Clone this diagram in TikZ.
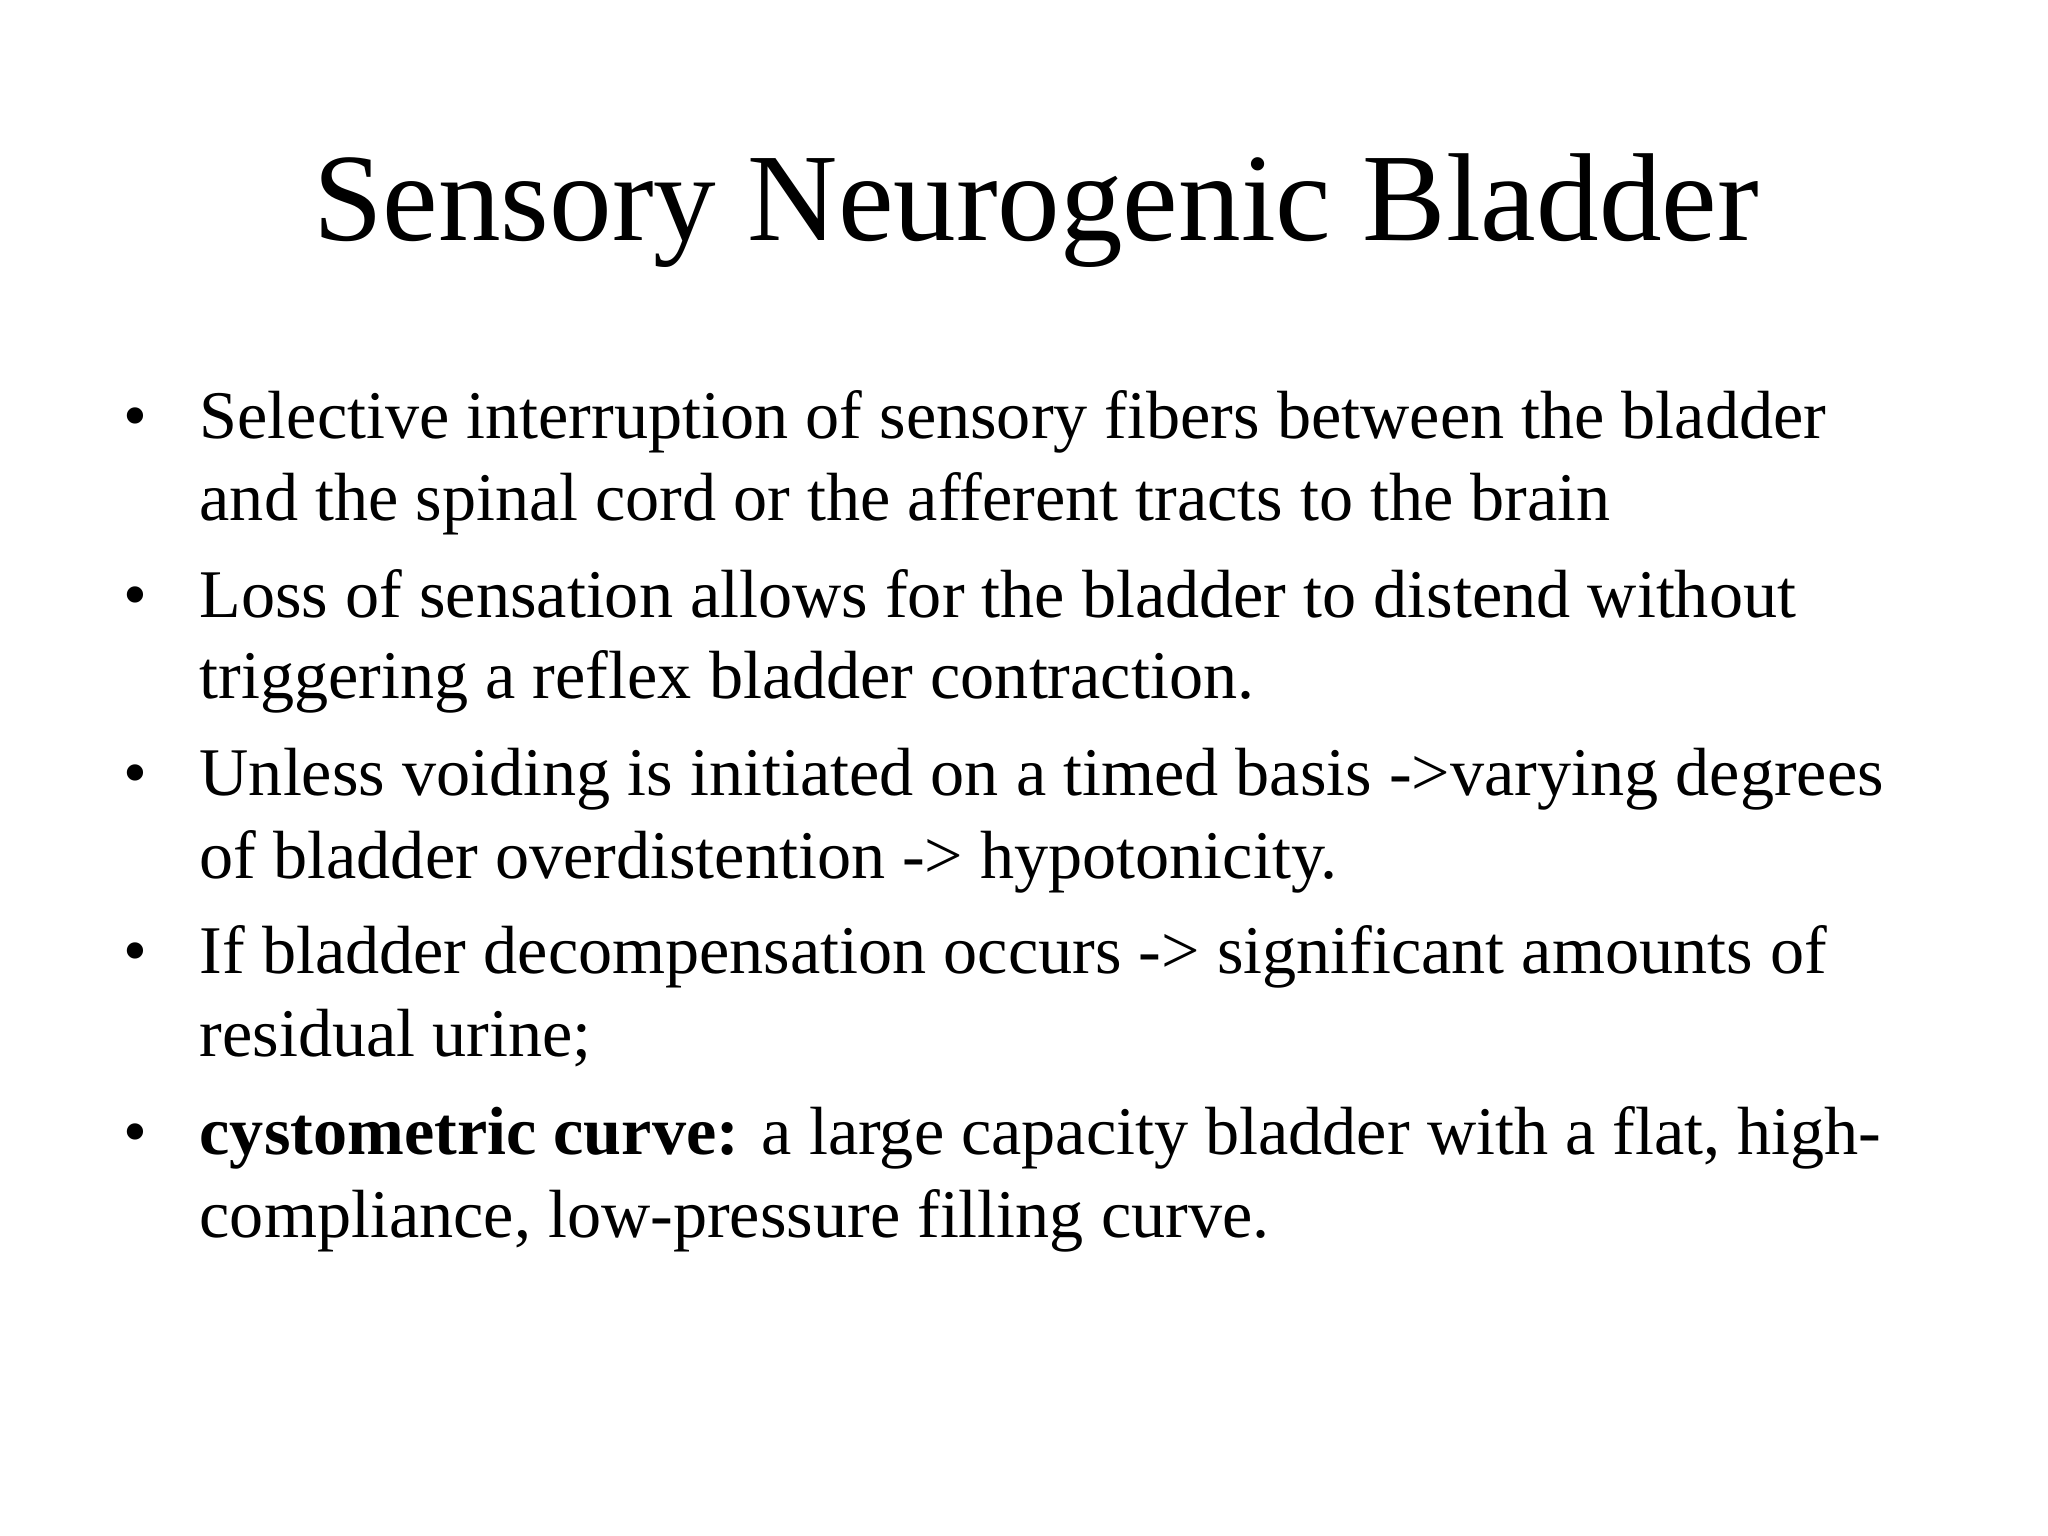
\documentclass[tikz,border=0pt]{standalone}
\usepackage{fontspec}
\setmainfont{Liberation Serif}
\begin{document}
\begin{tikzpicture}[x=1cm,y=1cm,
  ln/.style={anchor=base west,inner sep=0pt,font=\fontsize{19.4}{23}\selectfont},
  bul/.style={anchor=base west,inner sep=0pt,font=\fontsize{19.4}{23}\selectfont}]
\useasboundingbox (0,0) rectangle (20.48,15.36);
\node[anchor=base,inner sep=0pt,font=\fontsize{35.6}{42}\selectfont] (title) at (10.36,12.95) {Sensory Neurogenic Bladder};
\foreach \y/\n in {10.97/1,9.188/2,7.406/3,5.625/4,3.817/5}
  \node[bul] (b\n) at (1.23,\y) {\textbullet};
\node[ln] (l1) at (1.99,10.97) {Selective interruption of sensory fibers between the bladder};
\node[ln] (l2) at (1.99,10.15) {and the spinal cord or the afferent tracts to the brain};
\node[ln] (l3) at (1.99,9.188) {Loss of sensation allows for the bladder to distend without};
\node[ln] (l4) at (1.99,8.37) {triggering a reflex bladder contraction.};
\node[ln] (l5) at (1.99,7.406) {Unless voiding is initiated on a timed basis ->varying degrees};
\node[ln] (l6) at (1.99,6.575) {of bladder overdistention -> hypotonicity.};
\node[ln] (l7) at (1.99,5.625) {If bladder decompensation occurs -> significant amounts of};
\node[ln] (l8) at (1.99,4.793) {residual urine;};
\node[ln] (l9) at (1.99,3.817) {\textbf{cystometric curve:} a large capacity bladder with a flat, high-};
\node[ln] (l10) at (1.99,2.986) {compliance, low-pressure filling curve.};
\end{tikzpicture}
\end{document}
